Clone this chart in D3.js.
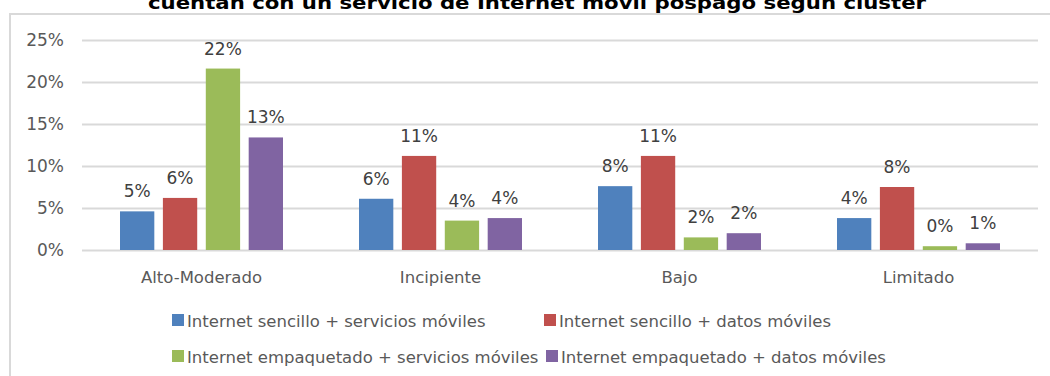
<!DOCTYPE html>
<html>
<head>
<meta charset="utf-8">
<script src="https://cdn.jsdelivr.net/npm/d3@7"></script>
<style>
  html, body { margin: 0; padding: 0; background: #fff; }
  svg { display: block; font-family: "DejaVu Sans", Verdana, sans-serif; }
</style>
</head>
<body>
<svg id="chart" width="1050" height="376"></svg>
<script>
// Clusters along the x axis
const clusters = ["Alto-Moderado", "Incipiente", "Bajo", "Limitado"];

// Offer types (one bar per cluster)
const seriesNames = [
  "Internet sencillo + servicios móviles",
  "Internet sencillo + datos móviles",
  "Internet empaquetado + servicios móviles",
  "Internet empaquetado + datos móviles"
];

// Share of households (%), one value per cluster
const sencilloServicios    = [4.6, 6.1, 7.6, 3.8];
const sencilloDatos        = [6.2, 11.2, 11.2, 7.5];
const empaquetadoServicios = [21.6, 3.5, 1.5, 0.45];
const empaquetadoDatos     = [13.4, 3.8, 2.0, 0.8];

const yTicks = [0, 5, 10, 15, 20, 25];

const titleText = "cuentan con un servicio de Internet móvil pospago según clúster";

const colors = ["#4F81BD", "#C0504D", "#9BBB59", "#8064A2"];
const seriesValues = [sencilloServicios, sencilloDatos, empaquetadoServicios, empaquetadoDatos];

const svg = d3.select("#chart");

// Chart frame
svg.append("rect")
  .attr("x", 10).attr("y", 14)
  .attr("width", 1060).attr("height", 400)
  .attr("fill", "#fff")
  .attr("stroke", "#D9D9D9")
  .attr("stroke-width", 2);

// Title (its upper part runs past the top edge)
svg.append("text")
  .attr("x", 537).attr("y", 9)
  .attr("text-anchor", "middle")
  .attr("font-weight", "bold")
  .attr("font-size", 18)
  .attr("fill", "#000")
  .attr("textLength", 778)
  .attr("lengthAdjust", "spacingAndGlyphs")
  .text(titleText);

const plot = { left: 82, right: 1038, top: 40, bottom: 250 };

const y = d3.scaleLinear().domain([0, 25]).range([plot.bottom, plot.top]);
const x0 = d3.scaleBand().domain(clusters).range([plot.left, plot.right]).padding(0);
const x1 = d3.scaleBand().domain(d3.range(seriesNames.length))
  .range([38, x0.bandwidth() - 38]).paddingInner(0.2).paddingOuter(0);

// Gridlines and percentage ticks
const yAxis = d3.axisLeft(y).tickValues(yTicks)
  .tickSize(-(plot.right - plot.left))
  .tickFormat(d => d + "%")
  .tickPadding(18);

const gy = svg.append("g")
  .attr("transform", `translate(${plot.left},0)`)
  .call(yAxis);
gy.select(".domain").remove();
gy.selectAll(".tick line").attr("stroke", "#D9D9D9").attr("stroke-width", 2);
gy.selectAll(".tick text")
  .attr("font-family", "DejaVu Sans, Verdana, sans-serif")
  .attr("font-size", 17)
  .attr("fill", "#595959");

// Bars
const groups = svg.append("g").selectAll("g")
  .data(clusters)
  .join("g")
  .attr("transform", d => `translate(${x0(d)},0)`);

const cells = groups.selectAll("g.cell")
  .data((c, ci) => seriesValues.map((vals, si) => ({ si, v: vals[ci] })))
  .join("g").attr("class", "cell");

cells.append("rect")
  .attr("x", d => x1(d.si))
  .attr("width", x1.bandwidth())
  .attr("y", d => y(d.v))
  .attr("height", d => y(0) - y(d.v))
  .attr("fill", d => colors[d.si]);

cells.append("text")
  .attr("x", d => x1(d.si) + x1.bandwidth() / 2)
  .attr("y", d => y(d.v) - 14)
  .attr("text-anchor", "middle")
  .attr("font-size", 17)
  .attr("fill", "#404040")
  .text(d => Math.round(d.v) + "%");

// Category axis labels
const xAxis = d3.axisBottom(x0).tickSize(0).tickPadding(21);
const gx = svg.append("g")
  .attr("transform", `translate(0,${plot.bottom})`)
  .call(xAxis);
gx.select(".domain").remove();
gx.selectAll(".tick text")
  .attr("font-family", "DejaVu Sans, Verdana, sans-serif")
  .attr("font-size", 16.5)
  .attr("fill", "#595959");

// Legend: two rows of two entries
const legendItems = [
  { si: 0, x: 172, y: 320 },
  { si: 1, x: 544, y: 320 },
  { si: 2, x: 172, y: 356 },
  { si: 3, x: 546, y: 356 }
];
const legend = svg.append("g").selectAll("g")
  .data(legendItems)
  .join("g")
  .attr("transform", d => `translate(${d.x},${d.y})`);
legend.append("rect")
  .attr("x", 0).attr("y", -6)
  .attr("width", 12).attr("height", 12)
  .attr("fill", d => colors[d.si]);
legend.append("text")
  .attr("x", 15).attr("y", 6.5)
  .attr("font-size", 16.5)
  .attr("fill", "#595959")
  .text(d => seriesNames[d.si]);
</script>
</body>
</html>
